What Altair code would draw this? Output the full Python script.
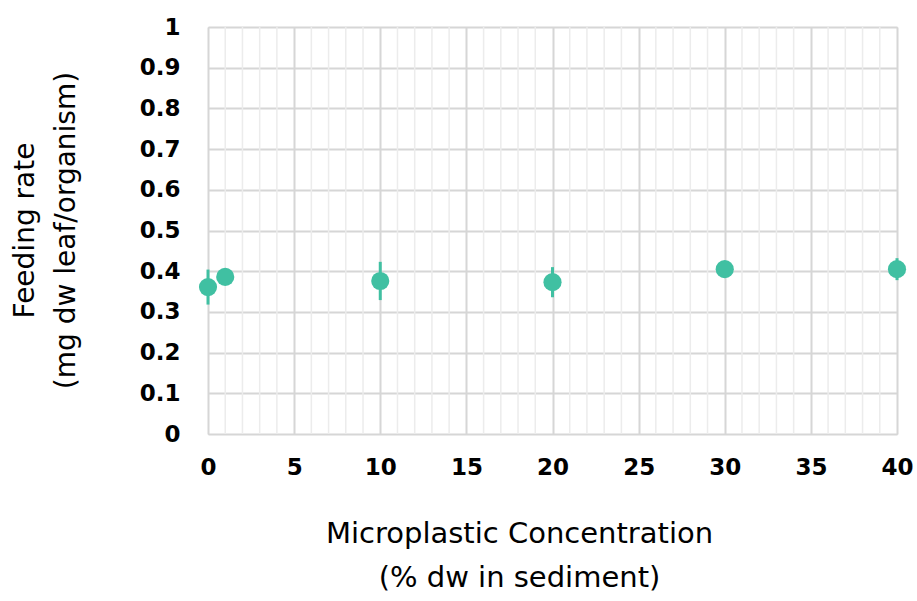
import altair as alt
import pandas as pd

# Data
conc = [0, 1, 10, 20, 30, 40]
feeding_mean = [0.361, 0.386, 0.376, 0.373, 0.405, 0.405]
feeding_err = [0.043, 0.015, 0.047, 0.037, 0.015, 0.027]

minor_x = [v for v in range(0, 41) if v % 5 != 0]
major_x = list(range(0, 41, 5))
y_ticks = [round(i * 0.1, 1) for i in range(0, 11)]

df = pd.DataFrame({
    "conc": conc,
    "mean": feeding_mean,
    "lo": [m - e for m, e in zip(feeding_mean, feeding_err)],
    "hi": [m + e for m, e in zip(feeding_mean, feeding_err)],
})
minor_df = pd.DataFrame({"x": minor_x})

TEAL = "#40C0A2"
FONT = "DejaVu Sans"

xscale = alt.Scale(domain=[0, 40], nice=False, zero=False)
yscale = alt.Scale(domain=[0, 1], nice=False)

x_axis = alt.Axis(
    values=major_x, grid=True, gridColor="#d6d6d6", gridWidth=2,
    domain=False, ticks=False,
    labelFont=FONT, labelFontWeight="bold", labelFontSize=23, labelColor="#000000",
    labelPadding=22, labelFlush=False,
    title=["Microplastic Concentration", "(% dw in sediment)"],
    titleFont=FONT, titleFontWeight="normal", titleFontSize=29, titleColor="#000000",
    titleLineHeight=44, titleX=311, titleY=108, titleAlign="center",
    titleAnchor="start", titleBaseline="alphabetic",
)
y_axis = alt.Axis(
    values=y_ticks, grid=True, gridColor="#d6d6d6", gridWidth=2,
    domain=False, ticks=False,
    labelFont=FONT, labelFontWeight="bold", labelFontSize=23, labelColor="#000000",
    labelPadding=28, labelFlush=False,
    labelExpr="datum.value == 0 ? '0' : datum.value == 1 ? '1' : format(datum.value, '.1f')",
    title=["Feeding rate", "(mg dw leaf/organism)"],
    titleFont=FONT, titleFontWeight="normal", titleFontSize=28, titleColor="#000000",
    titleLineHeight=41, titleX=-175, titleY=203, titleAlign="center",
    titleAngle=270, titleAnchor="start", titleBaseline="alphabetic",
)

minor = alt.Chart(minor_df).mark_rule(color="#ececec", strokeWidth=1.5).encode(
    x=alt.X("x:Q", scale=xscale, axis=x_axis)
)

grid_base = alt.Chart(df).mark_point(opacity=0).encode(
    x=alt.X("conc:Q", scale=xscale, axis=x_axis),
    y=alt.Y("mean:Q", scale=yscale, axis=y_axis),
)

bars = alt.Chart(df).mark_rule(color=TEAL, strokeWidth=3).encode(
    x=alt.X("conc:Q", scale=xscale, axis=x_axis),
    y=alt.Y("lo:Q", scale=yscale, axis=y_axis),
    y2="hi:Q",
)

points = alt.Chart(df).mark_circle(color=TEAL, opacity=1, size=330, clip=False).encode(
    x=alt.X("conc:Q", scale=xscale, axis=x_axis),
    y=alt.Y("mean:Q", scale=yscale, axis=y_axis),
)

chart = alt.layer(minor, grid_base, bars, points).properties(
    width=689, height=407,
    autosize=alt.AutoSizeParams(type="none"),
    padding={"left": 208, "top": 27, "right": 20, "bottom": 167},
).configure_view(stroke="#d6d6d6", strokeWidth=2).configure(background="white")

chart.save("out.html", embed_options={"renderer": "svg", "actions": False})
